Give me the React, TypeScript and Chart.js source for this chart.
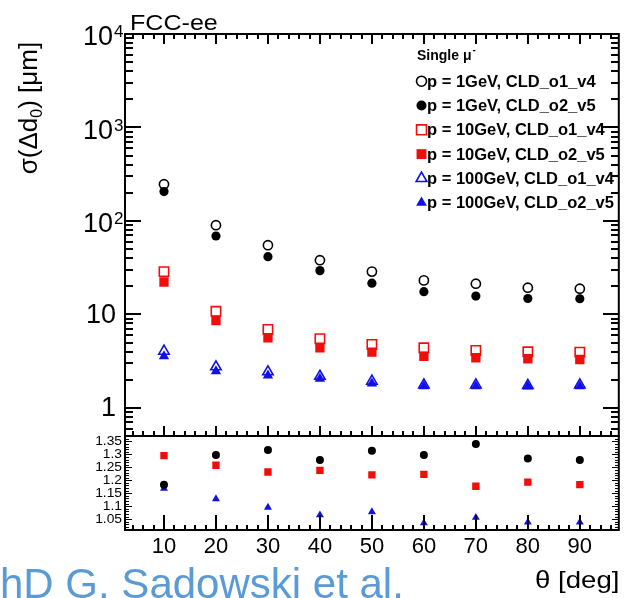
import React, { useEffect, useRef } from "react";
import { Chart, registerables } from "chart.js";

Chart.register(...registerables);

// ---------------- data ----------------
const thetaDeg = [10, 20, 30, 40, 50, 60, 70, 80, 90];

const p1_o1_v4 = [247, 90, 55, 38, 28.7, 23.1, 21.3, 19.3, 18.8];
const p1_o2_v5 = [206, 69, 41.5, 29.4, 21.6, 17.5, 15.7, 14.8, 14.7];
const p10_o1_v4 = [28.7, 10.8, 6.9, 5.49, 4.77, 4.39, 4.11, 3.98, 3.95];
const p10_o2_v5 = [22.2, 8.6, 5.63, 4.4, 3.94, 3.57, 3.44, 3.35, 3.29];
const p100_o1_v4 = [4.04, 2.75, 2.43, 2.18, 1.93, 1.76, 1.76, 1.74, 1.76];
const p100_o2_v5 = [3.57, 2.47, 2.22, 2.05, 1.82, 1.7, 1.7, 1.69, 1.7];

const ratio_p1 = [1.185, 1.3, 1.319, 1.28, 1.316, 1.3, 1.342, 1.286, 1.28];
const ratio_p10 = [1.297, 1.26, 1.234, 1.24, 1.223, 1.225, 1.179, 1.195, 1.185];
const ratio_p100 = [1.17, 1.13, 1.097, 1.068, 1.08, 1.037, 1.058, 1.04, 1.04];

const mainTickValues = [1, 10, 100, 1000, 10000];
const mainTickBase = ["1", "10", "10", "10", "10"];
const mainTickExp = ["", "", "2", "3", "4"];

const ratioTickValues = [1.05, 1.1, 1.15, 1.2, 1.25, 1.3, 1.35];
const ratioTickLabels = ["1.05", "1.1", "1.15", "1.2", "1.25", "1.3", "1.35"];

const xTickValues = [10, 20, 30, 40, 50, 60, 70, 80, 90];
const xTickLabels = ["10", "20", "30", "40", "50", "60", "70", "80", "90"];

const legendLabels = [
  "p = 1GeV, CLD_o1_v4",
  "p = 1GeV, CLD_o2_v5",
  "p = 10GeV, CLD_o1_v4",
  "p = 10GeV, CLD_o2_v5",
  "p = 100GeV, CLD_o1_v4",
  "p = 100GeV, CLD_o2_v5",
];

const titleText = "FCC-ee";
const yTitleMain = "σ(Δd";
const yTitleSub = "0";
const yTitleEnd = ") [μm]";
const xTitle = "θ [deg]";
const creditText = "PhD G. Sadowski et al.";
const legendHeader = "Single μ";
const legendHeaderSup = "-";

// ---------------- styles ----------------
const BLACK = "#000000";
const RED = "#f20d0d";
const BLUE = "#1010e6";
const CREDIT = "#5b9bd5";
const FONT = '"Liberation Sans", Arial, sans-serif';

type Sty = { shape: "circle" | "rect" | "triangle"; color: string; filled: boolean };
const styles: Sty[] = [
  { shape: "circle", color: BLACK, filled: false },
  { shape: "circle", color: BLACK, filled: true },
  { shape: "rect", color: RED, filled: false },
  { shape: "rect", color: RED, filled: true },
  { shape: "triangle", color: BLUE, filled: false },
  { shape: "triangle", color: BLUE, filled: true },
];
const mainRadius: Record<string, number> = { circle: 4.6, rect: 6.6, triangle: 6 };
const ratioRadius: Record<string, number> = { circle: 4, rect: 5.2, triangle: 4.6 };

const mainSeries = [p1_o1_v4, p1_o2_v5, p10_o1_v4, p10_o2_v5, p100_o1_v4, p100_o2_v5];
const ratioSeries = [ratio_p1, ratio_p10, ratio_p100];
const ratioStyles = [styles[1], styles[3], styles[5]];

function txt(
  ctx: CanvasRenderingContext2D,
  s: string,
  x: number,
  y: number,
  font: string,
  o: { align?: CanvasTextAlign; baseline?: CanvasTextBaseline; color?: string; sx?: number } = {}
) {
  ctx.save();
  ctx.font = font;
  ctx.fillStyle = o.color || BLACK;
  ctx.textAlign = o.align || "left";
  ctx.textBaseline = o.baseline || "alphabetic";
  ctx.translate(x, y);
  ctx.scale(o.sx || 1, 1);
  ctx.fillText(s, 0, 0);
  ctx.restore();
}

function hTick(ctx: CanvasRenderingContext2D, x: number, y: number, len: number, th: number) {
  const x0 = len >= 0 ? x : x + len;
  ctx.fillRect(Math.round(x0), Math.round(y - th / 2), Math.round(Math.abs(len)), th);
}
function vTick(ctx: CanvasRenderingContext2D, x: number, y: number, len: number, th: number) {
  const y0 = len >= 0 ? y : y + len;
  ctx.fillRect(Math.round(x - th / 2), Math.round(y0), th, Math.round(Math.abs(len)));
}

function marker(ctx: CanvasRenderingContext2D, st: Sty, x: number, y: number, r: number) {
  ctx.save();
  ctx.beginPath();
  if (st.shape === "circle") {
    ctx.arc(x, y, r, 0, Math.PI * 2);
  } else if (st.shape === "rect") {
    const h = r * Math.SQRT1_2;
    ctx.rect(x - h, y - h, 2 * h, 2 * h);
  } else {
    for (let k = 0; k < 3; k++) {
      const a = (k * 2 * Math.PI) / 3;
      const px = x + Math.sin(a) * r;
      const py = y - Math.cos(a) * r;
      if (k === 0) ctx.moveTo(px, py);
      else ctx.lineTo(px, py);
    }
    ctx.closePath();
  }
  if (st.filled) {
    ctx.fillStyle = st.color;
    ctx.fill();
  } else {
    ctx.lineWidth = 1.6;
    ctx.strokeStyle = st.color;
    ctx.stroke();
  }
  ctx.restore();
}

const decorPlugin = {
  id: "decor",
  afterDraw(chart: any) {
    const ctx: CanvasRenderingContext2D = chart.ctx;
    const xs = chart.scales.x;
    const ys = chart.scales.y;
    const yr = chart.scales.y2;
    const L = chart.chartArea.left;
    const R = chart.chartArea.right;
    const mT = ys.top, mB = ys.bottom, rT = yr.top, rB = yr.bottom;

    // ---- ticks ----
    ctx.save();
    ctx.fillStyle = "#000000";
    ctx.globalAlpha = 1;
    ctx.globalCompositeOperation = "source-over";
    const dv = [1, 2, 3, 4, 5, 6, 7, 8, 9];
    const decades = [0.1, 1, 10, 100, 1000, 10000];
    decades.forEach((dec) => {
      dv.forEach((m) => {
        const v = m * dec;
        if (v < 0.5 || v > 10000) return;
        const py = ys.getPixelForValue(v);
        const len = m === 1 ? 16 : 8;
        hTick(ctx, L, py, len, 2);
        hTick(ctx, R, py, -len, 2);
      });
    });
    for (let v = 4; v <= 96; v += 2) {
      const px = xs.getPixelForValue(v);
      const major = v % 10 === 0;
      vTick(ctx, px, mT, major ? 10 : 5, 2);
      vTick(ctx, px, mB, major ? -10 : -5, 2);
      vTick(ctx, px, rB, major ? -15 : -5, 2);
    }
    for (let k = 102; k <= 137; k++) {
      const py = yr.getPixelForValue(k / 100);
      const len = k % 5 === 0 ? 7 : 4;
      hTick(ctx, L, py, len, 1);
      hTick(ctx, R, py, -len, 1);
    }
    ctx.strokeStyle = BLACK;
    ctx.lineWidth = 2;
    ctx.strokeRect(L, mT, R - L, mB - mT);
    ctx.strokeRect(L, rT, R - L, rB - rT);
    ctx.restore();

    // main y tick labels
    mainTickValues.forEach((v, i) => {
      const py = ys.getPixelForValue(v);
      if (mainTickExp[i]) {
        txt(ctx, mainTickBase[i], L - 12, py + 4, `27px ${FONT}`, { align: "right", baseline: "middle" });
        txt(ctx, mainTickExp[i], L - 11, py - 10, `17px ${FONT}`, { align: "left", baseline: "top" });
      } else {
        txt(ctx, mainTickBase[i], L - 9, py + 1, `27px ${FONT}`, { align: "right", baseline: "middle" });
      }
    });
    // ratio tick labels
    ratioTickValues.forEach((v, i) => {
      const py = yr.getPixelForValue(v);
      txt(ctx, ratioTickLabels[i], L - 3, py, `12px ${FONT}`, { align: "right", baseline: "middle", sx: 1.15 });
    });
    // x tick labels
    xTickValues.forEach((v, i) => {
      const px = xs.getPixelForValue(v);
      txt(ctx, xTickLabels[i], px, 553, `22px ${FONT}`, { align: "center" });
    });

    // title
    txt(ctx, titleText, 130, 30, `22px ${FONT}`, { sx: 1.14 });
    // x title
    txt(ctx, xTitle, 535, 588, `24px ${FONT}`, { sx: 1.15 });
    // credit (P is cut off at left)
    ctx.save();
    ctx.font = `42px ${FONT}`;
    const wP = ctx.measureText("P").width;
    ctx.restore();
    txt(ctx, creditText, 0 - wP, 598, `42px ${FONT}`, { color: CREDIT });

    // y title rotated
    ctx.save();
    ctx.translate(37, 108);
    ctx.rotate(-Math.PI / 2);
    ctx.font = `26px ${FONT}`;
    const w1 = ctx.measureText(yTitleMain).width;
    const w3 = ctx.measureText(yTitleEnd).width;
    ctx.font = `16px ${FONT}`;
    const w2 = ctx.measureText(yTitleSub).width;
    const tot = w1 + w2 + w3;
    let cx = -tot / 2;
    ctx.fillStyle = BLACK;
    ctx.textBaseline = "alphabetic";
    ctx.font = `26px ${FONT}`;
    ctx.fillText(yTitleMain, cx, 0);
    cx += w1;
    ctx.font = `16px ${FONT}`;
    ctx.fillText(yTitleSub, cx, 5);
    cx += w2;
    ctx.font = `26px ${FONT}`;
    ctx.fillText(yTitleEnd, cx, 0);
    ctx.restore();

    // legend
    txt(ctx, legendHeader, 417, 60, `bold 14px ${FONT}`);
    ctx.save();
    ctx.font = `bold 14px ${FONT}`;
    const wh = ctx.measureText(legendHeader).width;
    ctx.restore();
    txt(ctx, legendHeaderSup, 417 + wh + 1, 53, `bold 10px ${FONT}`);
    legendLabels.forEach((lab, i) => {
      const by = 86.7 + i * 24.3;
      const st = styles[i];
      marker(ctx, st, 421.5, by - 5.5, st.shape === "circle" ? 5 : st.shape === "rect" ? 7 : 6.2);
      txt(ctx, lab, 427, by, `bold 16.5px ${FONT}`);
    });
  },
};

function makeDataset(label: string, values: number[], st: Sty, yAxisID: string, r: number, order: number) {
  return {
    label,
    data: thetaDeg.map((t, i) => ({ x: t, y: values[i] })),
    yAxisID,
    xAxisID: "x",
    showLine: false,
    order,
    pointStyle: st.shape,
    pointRadius: r,
    pointHoverRadius: r,
    pointBorderWidth: st.filled ? 0 : 1.6,
    pointBorderColor: st.color,
    pointBackgroundColor: st.filled ? st.color : "rgba(0,0,0,0)",
    borderColor: st.color,
    backgroundColor: st.filled ? st.color : "rgba(0,0,0,0)",
  };
}

export default function App() {
  const ref = useRef<HTMLCanvasElement | null>(null);
  useEffect(() => {
    if (!ref.current) return;
    const datasets: any[] = [];
    mainSeries.forEach((s, i) => {
      const st = styles[i];
      datasets.push(makeDataset(legendLabels[i], s, st, "y", mainRadius[st.shape], st.filled ? 0 : 1));
    });
    ratioSeries.forEach((s, i) => {
      const st = ratioStyles[i];
      datasets.push(makeDataset("ratio " + legendLabels[i * 2], s, st, "y2", ratioRadius[st.shape], 0));
    });
    const chart = new Chart(ref.current, {
      type: "scatter",
      data: { datasets },
      options: {
        animation: false,
        responsive: false,
        devicePixelRatio: 1,
        events: [],
        layout: { padding: { left: 125, right: 5, top: 34, bottom: 68 } },
        plugins: { legend: { display: false }, tooltip: { enabled: false }, title: { display: false } },
        scales: {
          x: {
            type: "linear",
            position: "bottom",
            min: 2.5,
            max: 97.5,
            ticks: { display: false },
            grid: { display: false },
            border: { display: false },
            afterFit: (s: any) => { s.height = 0; },
          },
          y: {
            type: "logarithmic",
            position: "left",
            stack: "panels",
            stackWeight: 402,
            weight: 2,
            min: 0.5,
            max: 10000,
            ticks: { display: false },
            grid: { display: false },
            border: { display: false },
            afterFit: (s: any) => { s.width = 0; },
          },
          y2: {
            type: "linear",
            position: "left",
            stack: "panels",
            stackWeight: 94,
            weight: 1,
            min: 1.01,
            max: 1.373,
            ticks: { display: false },
            grid: { display: false },
            border: { display: false },
            afterFit: (s: any) => { s.width = 0; },
          },
        },
      } as any,
      plugins: [decorPlugin],
    });
    return () => chart.destroy();
  }, []);
  return (
    <div style={{ position: "fixed", left: 0, top: 0, width: 627, height: 598, background: "#fff" }}>
      <canvas ref={ref} width={627} height={598} style={{ display: "block" }} />
    </div>
  );
}
